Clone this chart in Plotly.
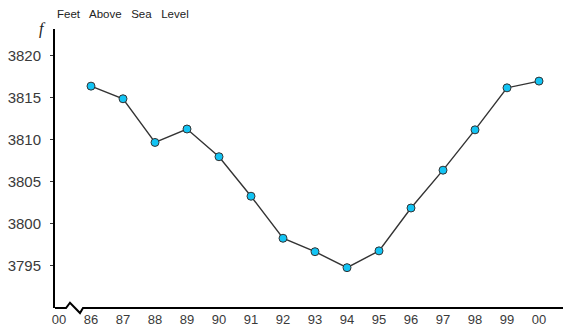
import plotly.graph_objects as go

years = ["86", "87", "88", "89", "90", "91", "92", "93", "94", "95", "96", "97", "98", "99", "00"]
feet = [3816.4, 3814.9, 3809.7, 3811.3, 3808.0, 3803.3, 3798.3, 3796.7, 3794.8, 3796.8, 3801.9, 3806.4, 3811.2, 3816.2, 3817.0]
tick_labels = ["00"] + years
y_ticks = [3795, 3800, 3805, 3810, 3815, 3820]

x_pos = list(range(1, len(years) + 1))

fig = go.Figure()
fig.add_trace(go.Scatter(
    x=x_pos, y=feet, mode="lines+markers",
    line=dict(color="#333333", width=1.4),
    marker=dict(size=8, color="#12C4F4", line=dict(color="#333333", width=1)),
    cliponaxis=False, showlegend=False, hoverinfo="skip",
))

fig.update_layout(
    width=563, height=330,
    margin=dict(l=55, r=0, t=29, b=22, autoexpand=False),
    paper_bgcolor="white", plot_bgcolor="white",
    font=dict(family="Liberation Sans, Arial, sans-serif", color="#3a3a3a"),
    xaxis=dict(
        range=[-0.125, 15.75], tickmode="array",
        tickvals=list(range(len(tick_labels))), ticktext=tick_labels,
        showgrid=False, zeroline=False, showline=False, ticks="",
        tickfont=dict(size=13), ticklabelstandoff=2, automargin=False,
    ),
    yaxis=dict(
        range=[3790, 3823.2], tickmode="array", tickvals=y_ticks,
        showgrid=False, zeroline=False, showline=True, linecolor="black", linewidth=2,
        ticks="outside", ticklen=3, tickwidth=1, tickcolor="#333333",
        tickfont=dict(size=15), ticklabelstandoff=6, automargin=False,
    ),
    annotations=[
        dict(text="Feet\u00a0\u00a0 Above\u00a0\u00a0 Sea\u00a0\u00a0 Level", xref="paper", yref="paper",
             x=0.0, y=1.0, xanchor="left", yanchor="bottom", yshift=7, showarrow=False,
             font=dict(size=11.5, color="#222222")),
        dict(text="<i>f</i>", xref="paper", yref="paper", x=0.0, y=1.0,
             xanchor="right", yanchor="middle", xshift=-7, yshift=0, showarrow=False,
             font=dict(size=16, color="#222222", family="Liberation Serif, serif")),
    ],
    shapes=[
        dict(type="path", xref="paper", yref="paper",
             path="M 0,0 L 0.0217,0 L 0.0295,0.019 L 0.0492,-0.018 L 0.0551,0 L 1,0",
             line=dict(color="black", width=2)),
    ],
)

fig.write_html("out.html", config={"displayModeBar": False},
               post_script="document.body.style.margin='0';")
